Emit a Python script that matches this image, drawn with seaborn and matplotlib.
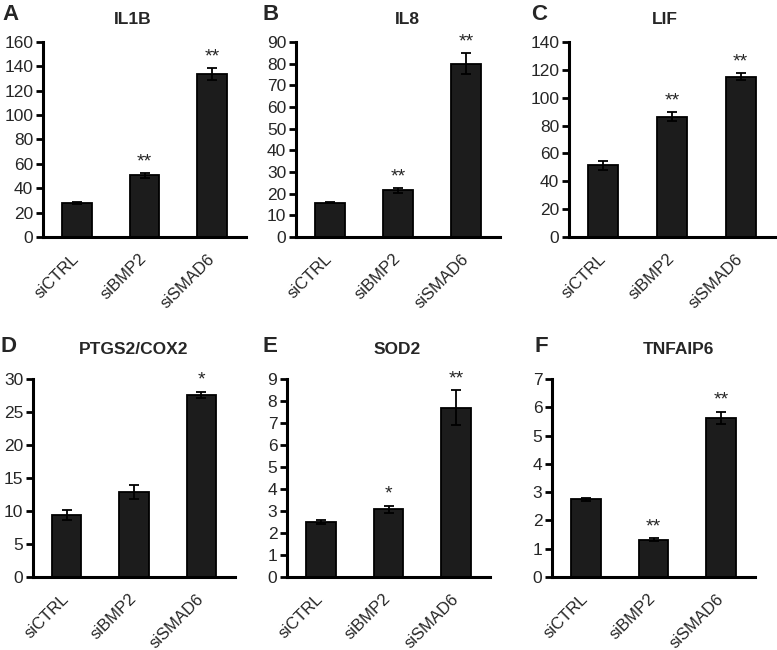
import matplotlib
matplotlib.use("Agg")
import matplotlib.pyplot as plt
import seaborn as sns
import pandas as pd

categories = ["siCTRL", "siBMP2", "siSMAD6"]

il1b = [28, 50.5, 133.5]
il1b_err = [1, 2, 5]
il8 = [15.8, 21.5, 80]
il8_err = [0.3, 1, 4.8]
lif = [51.5, 86.5, 115]
lif_err = [3.2, 3, 2.5]
ptgs2 = [9.4, 12.9, 27.6]
ptgs2_err = [0.8, 1.1, 0.5]
sod2 = [2.5, 3.08, 7.7]
sod2_err = [0.07, 0.17, 0.8]
tnfaip6 = [2.75, 1.32, 5.62]
tnfaip6_err = [0.05, 0.05, 0.22]

il1b_stars = ["", "**", "**"]
il8_stars = ["", "**", "**"]
lif_stars = ["", "**", "**"]
ptgs2_stars = ["", "", "*"]
sod2_stars = ["", "*", "**"]
tnfaip6_stars = ["", "**", "**"]

panels = [
    ("A", "IL1B", il1b, il1b_err, il1b_stars, 160, 20),
    ("B", "IL8", il8, il8_err, il8_stars, 90, 10),
    ("C", "LIF", lif, lif_err, lif_stars, 140, 20),
    ("D", "PTGS2/COX2", ptgs2, ptgs2_err, ptgs2_stars, 30, 5),
    ("E", "SOD2", sod2, sod2_err, sod2_stars, 9, 1),
    ("F", "TNFAIP6", tnfaip6, tnfaip6_err, tnfaip6_stars, 7, 1),
]

# axes boxes in pixels: left, top, right, bottom
boxes = [
    (43, 42, 246, 237), (296, 42, 500, 237), (569, 42, 775, 237),
    (33, 379, 235, 577), (287, 379, 490, 577), (552, 379, 755, 577),
]
letter_pos = [(2, 14), (262, 14), (531, 14), (1, 347), (262, 347), (534, 347)]
title_pos = [(133, 19), (407, 19), (665, 19), (134, 349), (397, 349), (678, 349)]

sns.set_style("white")
plt.rcParams["font.family"] = ["Liberation Sans", "DejaVu Sans"]

W, H = 777, 650
fig = plt.figure(figsize=(W / 100, H / 100), dpi=100)

for (letter, title, vals, errs, stars, ymax, step), box, lp, tp in zip(
        panels, boxes, letter_pos, title_pos):
    l, t, r, b = box
    ax = fig.add_axes([l / W, 1 - b / H, (r - l) / W, (b - t) / H])
    df = pd.DataFrame({"group": categories, "value": vals})
    sns.barplot(data=df, x="group", y="value", ax=ax, color="#1c1c1c",
                edgecolor="black", linewidth=1.3, width=0.44, errorbar=None)
    xs = range(len(categories))
    ax.errorbar(xs, vals, yerr=errs, fmt="none", ecolor="black",
                elinewidth=1.3, capsize=3.5, capthick=1.3)
    for i, (v, e, s) in enumerate(zip(vals, errs, stars)):
        if s:
            ax.text(i, v + e + ymax * 0.015, s, ha="center", va="bottom",
                    fontsize=14)
    ax.set_xlim(-0.5, 2.5)
    ax.set_ylim(0, ymax)
    ax.set_yticks(range(0, ymax + 1, step))
    ax.set_xticks([-0.5, 0.5, 1.5, 2.5], minor=False)
    ax.set_xticklabels([])
    ax.set_xticks(list(xs), minor=True)
    ax.set_xticklabels(categories, minor=True, rotation=45, ha="right",
                       va="center", rotation_mode="anchor", fontsize=12)
    ax.tick_params(axis="x", which="minor", length=0, pad=14)
    ax.tick_params(axis="x", which="major", direction="out", length=4,
                   width=2, color="black")
    ax.tick_params(axis="y", direction="out", length=5, width=2,
                   color="black", labelsize=12.5, pad=2, left=True)
    ax.set_xlabel("")
    ax.set_ylabel("")
    sns.despine(ax=ax)
    for sp in ("left", "bottom"):
        ax.spines[sp].set_linewidth(2.2)
        ax.spines[sp].set_color("black")
    fig.text(lp[0] / W, 1 - lp[1] / H, letter, ha="left", va="center",
             fontsize=16, fontweight="bold")
    fig.text(tp[0] / W, 1 - tp[1] / H, title, ha="center", va="center",
             fontsize=12.5, fontweight="bold")

fig.savefig("out.png", dpi=100, facecolor="white")
